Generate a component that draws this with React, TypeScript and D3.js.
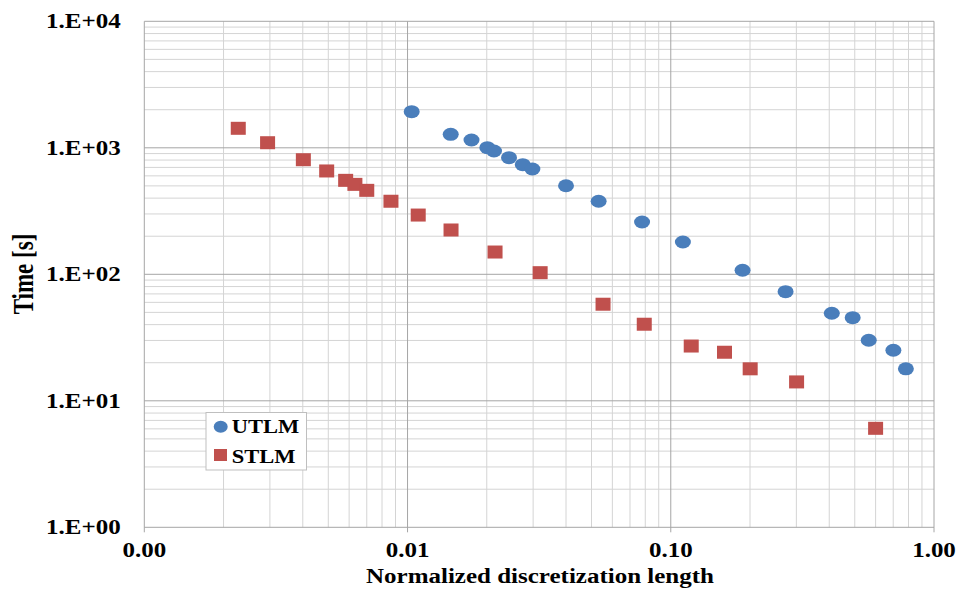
import React from "react";
import * as d3 from "d3";

const utlmX = [0.01037, 0.01459, 0.0175, 0.0201, 0.0213, 0.0243, 0.0274, 0.0298, 0.04, 0.0532, 0.0778, 0.1112, 0.1874, 0.273, 0.409, 0.491, 0.565, 0.701, 0.782];
const utlmY = [1929, 1278, 1152, 1002, 943, 835, 735, 680, 501, 378, 259, 180, 107.6, 72.9, 49.2, 45.4, 30.1, 25.1, 17.9];
const stlmX = [0.002275, 0.00294, 0.00402, 0.00493, 0.00582, 0.00631, 0.007, 0.00865, 0.01098, 0.01463, 0.0215, 0.0319, 0.0553, 0.0793, 0.1196, 0.16, 0.2003, 0.3006, 0.6];
const stlmY = [1426, 1097, 805, 656, 553, 514, 461, 378, 294, 224, 150, 103, 58, 40.3, 27.1, 24.2, 17.9, 14.1, 6.06];
const xTicks = [0.001, 0.01, 0.1, 1];
const xTickLabels = ["0.00", "0.01", "0.10", "1.00"];
const yTicks = [1, 10, 100, 1000, 10000];
const yTickLabels = ["1.E+00", "1.E+01", "1.E+02", "1.E+03", "1.E+04"];
const seriesNames = ["UTLM", "STLM"];
const seriesColors = ["#4a7ebb", "#c0504d"];

const W = 964, H = 596;
const L = 144.3, R = 934, T = 21.3, B = 527.3;
const FONT = "'Liberation Serif', 'Times New Roman', serif";
const SX = 1.25;

export default function App() {
  const x = d3.scaleLog().domain([0.001, 1]).range([L, R]);
  const y = d3.scaleLog().domain([1, 10000]).range([B, T]);

  const minorX: number[] = [];
  for (let e = -3; e < 0; e++) for (let k = 2; k <= 9; k++) minorX.push(k * Math.pow(10, e));
  const minorY: number[] = [];
  for (let e = 0; e < 4; e++) for (let k = 2; k <= 9; k++) minorY.push(k * Math.pow(10, e));

  const txt = (s: string, px: number, py: number, anchor: string, size: number, key?: string) => (
    <text key={key} transform={`translate(${px},${py}) scale(${SX},1)`} textAnchor={anchor}
      fontFamily={FONT} fontWeight="bold" fontSize={size} fill="#000">{s}</text>
  );

  return (
    <svg width={W} height={H} style={{ position: "absolute", left: 0, top: 0, background: "#fff" }}>
      <rect x={0} y={0} width={W} height={H} fill="#fff" />
      {minorX.map((v, i) => (
        <line key={"mx" + i} x1={x(v)} x2={x(v)} y1={T} y2={B} stroke="#d4d4d4" strokeWidth={1} />
      ))}
      {minorY.map((v, i) => (
        <line key={"my" + i} x1={L} x2={R} y1={y(v)} y2={y(v)} stroke="#d4d4d4" strokeWidth={1} />
      ))}
      {xTicks.map((v, i) => (
        <line key={"Mx" + i} x1={x(v)} x2={x(v)} y1={T} y2={B + 5} stroke="#a6a6a6" strokeWidth={1} />
      ))}
      {yTicks.map((v, i) => (
        <line key={"My" + i} x1={L} x2={R} y1={y(v)} y2={y(v)} stroke="#a6a6a6" strokeWidth={1} />
      ))}
      {yTicks.map((v, i) => txt(yTickLabels[i], 120.7, y(v) + 7, "end", 20, "yl" + i))}
      {xTicks.map((v, i) => txt(xTickLabels[i], x(v), 557, "middle", 20, "xl" + i))}
      {txt("Normalized discretization length", 540, 583, "middle", 20, "xt")}
      <text transform={`translate(33,274) rotate(-90) scale(1,${SX})`} textAnchor="middle"
        fontFamily={FONT} fontWeight="bold" fontSize={23} fill="#000">Time [s]</text>

      {stlmX.map((v, i) => (
        <rect key={"s" + i} x={x(v) - 7.5} y={y(stlmY[i]) - 6.5} width={15} height={13} fill={seriesColors[1]} />
      ))}
      {utlmX.map((v, i) => (
        <ellipse key={"u" + i} cx={x(v)} cy={y(utlmY[i])} rx={8} ry={6.5} fill={seriesColors[0]} />
      ))}

      <rect x={206} y={412.5} width={100.5} height={57.5} fill="#fff" stroke="#bfbfbf" strokeWidth={1} />
      <ellipse cx={220.7} cy={426.7} rx={7} ry={6} fill={seriesColors[0]} />
      <rect x={214} y={449} width={13} height={12} fill={seriesColors[1]} />
      {txt(seriesNames[0], 231.7, 433.3, "start", 18, "lg0")}
      {txt(seriesNames[1], 231.7, 462.7, "start", 18, "lg1")}
    </svg>
  );
}
